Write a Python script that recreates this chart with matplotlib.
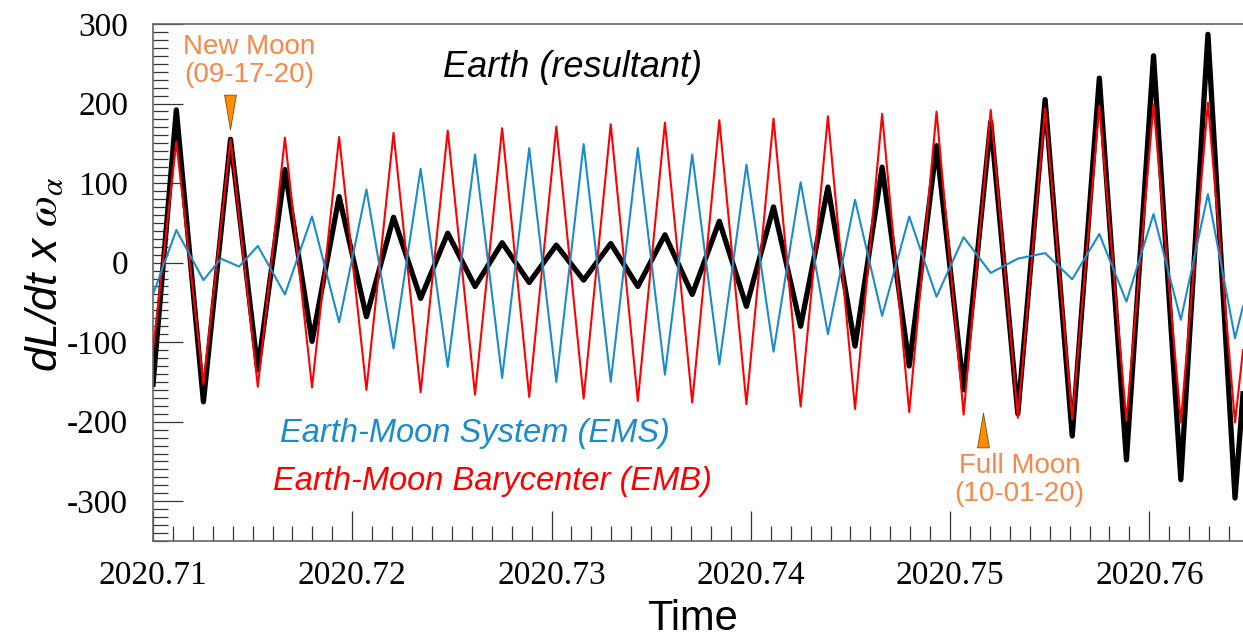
import matplotlib
matplotlib.use("Agg")
import matplotlib.pyplot as plt
from matplotlib.ticker import MultipleLocator, FixedLocator

# samples read at each half cycle (decimal year)
time = [2020.71000, 2020.71117, 2020.71253, 2020.71389, 2020.71526, 2020.71662,
        2020.71798, 2020.71934, 2020.72071, 2020.72207, 2020.72343, 2020.72479,
        2020.72616, 2020.72752, 2020.72888, 2020.73024, 2020.73161, 2020.73297,
        2020.73433, 2020.73569, 2020.73706, 2020.73842, 2020.73978, 2020.74114,
        2020.74250, 2020.74387, 2020.74523, 2020.74659, 2020.74795, 2020.74932,
        2020.75068, 2020.75204, 2020.75340, 2020.75477, 2020.75613, 2020.75749,
        2020.75885, 2020.76021, 2020.76158, 2020.76294, 2020.76430, 2020.76470]

earth = [-153, 192, -175, 155, -135, 117, -99, 83, -68, 57, -45, 37, -30, 25,
         -25, 22, -22, 24, -30, 35, -40, 52, -55, 70, -80, 95, -105, 120, -130,
         147, -160, 177, -190, 205, -218, 232, -248, 260, -273, 287, -296, -165]

emb = [-110, 152, -153, 155, -156, 157, -157, 158, -160, 163, -163, 166, -166,
       169, -169, 171, -171, 174, -174, 176, -176, 179, -178, 181, -181, 184,
       -184, 187, -188, 190, -191, 192, -195, 194, -197, 197, -199, 199, -201,
       201, -201, -110]

ems_time = [2020.71000, 2020.71117, 2020.71253, 2020.71341, 2020.71432,
            2020.71526, 2020.71662, 2020.71798, 2020.71934, 2020.72071,
            2020.72207, 2020.72343, 2020.72479, 2020.72616, 2020.72752,
            2020.72888, 2020.73024, 2020.73161, 2020.73297, 2020.73433,
            2020.73569, 2020.73706, 2020.73842, 2020.73978, 2020.74114,
            2020.74250, 2020.74387, 2020.74523, 2020.74659, 2020.74795,
            2020.74932, 2020.75068, 2020.75204, 2020.75340, 2020.75477,
            2020.75613, 2020.75749, 2020.75885, 2020.76021, 2020.76158,
            2020.76294, 2020.76430, 2020.76470]
ems = [-40, 41, -22, 5, -5, 21, -40, 58, -75, 92, -108, 118, -131, 136, -145,
       144, -150, 149, -150, 144, -141, 136, -128, 123, -112, 101, -90, 79, -67,
       58, -43, 32, -13, 5, 12, -21, 36, -49, 61, -72, 86, -95, -55]

new_moon = (2020.71386, 189)
full_moon = (2020.75165, -210)

x_ticks = [2020.71, 2020.72, 2020.73, 2020.74, 2020.75, 2020.76]
y_ticks = [-300, -200, -100, 0, 100, 200, 300]

sans = "Liberation Sans"
serif = "Liberation Serif"
orange = "#F7884A"
blue = "#1A8CCB"

plt.rcParams["axes.unicode_minus"] = False
plt.rcParams["mathtext.fontset"] = "stix"

fig = plt.figure(figsize=(12.43, 6.4), dpi=100)
ax = fig.add_axes([0.1231, 0.1547, 0.8769, 0.8078])

ax.plot(time, earth, color="black", lw=3.8, zorder=2)
ax.plot(time, emb, color="#FF0000", lw=1.5, zorder=3)
ax.plot(ems_time, ems, color=blue, lw=1.5, zorder=4)

tri_down = [(-0.17, 0.5), (0.17, 0.5), (0, -0.5), (-0.17, 0.5)]
tri_up = [(-0.17, -0.5), (0.17, -0.5), (0, 0.5), (-0.17, -0.5)]
ax.plot([new_moon[0]], [new_moon[1]], marker=tri_down, ms=25, color="#FF8C00",
        mec="#7a4a10", mew=0.6, ls="none", zorder=5)
ax.plot([full_moon[0]], [full_moon[1]], marker=tri_up, ms=25, color="#FF8C00",
        mec="#7a4a10", mew=0.6, ls="none", zorder=5)

ax.set_xlim(2020.71, 2020.7647)
ax.set_ylim(-350, 300)

ax.xaxis.set_major_locator(FixedLocator(x_ticks))
ax.xaxis.set_minor_locator(MultipleLocator(0.001))
ax.yaxis.set_major_locator(FixedLocator(y_ticks))
ax.yaxis.set_minor_locator(MultipleLocator(10))
ax.set_xticklabels(["%.2f" % v for v in x_ticks])
ax.set_yticklabels(["%d" % v for v in y_ticks])

ax.tick_params(which="both", direction="in", color="#333333", width=0.9,
               top=False, right=False)
ax.tick_params(which="major", length=21.6)
ax.tick_params(which="minor", length=10.8)
ax.tick_params(axis="x", pad=14)
ax.tick_params(axis="y", pad=18)
for lab in ax.get_xticklabels() + ax.get_yticklabels():
    lab.set_fontfamily(serif)
    lab.set_fontsize(24)

for side in ["left", "bottom", "top"]:
    ax.spines[side].set_color("#666666")
    ax.spines[side].set_linewidth(1.2)
ax.spines["right"].set_visible(False)

ax.text(0.2005, 0.905, "New Moon\n(09-17-20)", transform=fig.transFigure,
        ha="center", va="center", color=orange, fontsize=20, family=sans,
        linespacing=1.12)
ax.text(0.8203, 0.25, "Full Moon\n(10-01-20)", transform=fig.transFigure,
        ha="center", va="center", color=orange, fontsize=20, family=sans,
        linespacing=1.12)
ax.text(0.4602, 0.895, "Earth (resultant)", transform=fig.transFigure,
        ha="center", va="center", color="black", fontsize=26, family=sans,
        style="italic")
ax.text(0.3822, 0.323, "Earth-Moon System (EMS)", transform=fig.transFigure,
        ha="center", va="center", color=blue, fontsize=23.5, family=sans,
        style="italic")
ax.text(0.3958, 0.247, "Earth-Moon Barycenter (EMB)", transform=fig.transFigure,
        ha="center", va="center", color="#FF0000", fontsize=23.5, family=sans,
        style="italic")

fig.text(0.036, 0.572, r"dL/dt x $\omega_\alpha$", rotation=90, ha="center",
         va="center", fontsize=32, family=sans, style="italic")
fig.text(0.557, 0.002, "Time", ha="center", va="bottom", fontsize=30,
         family=sans)

fig.savefig("out.png", dpi=100)
